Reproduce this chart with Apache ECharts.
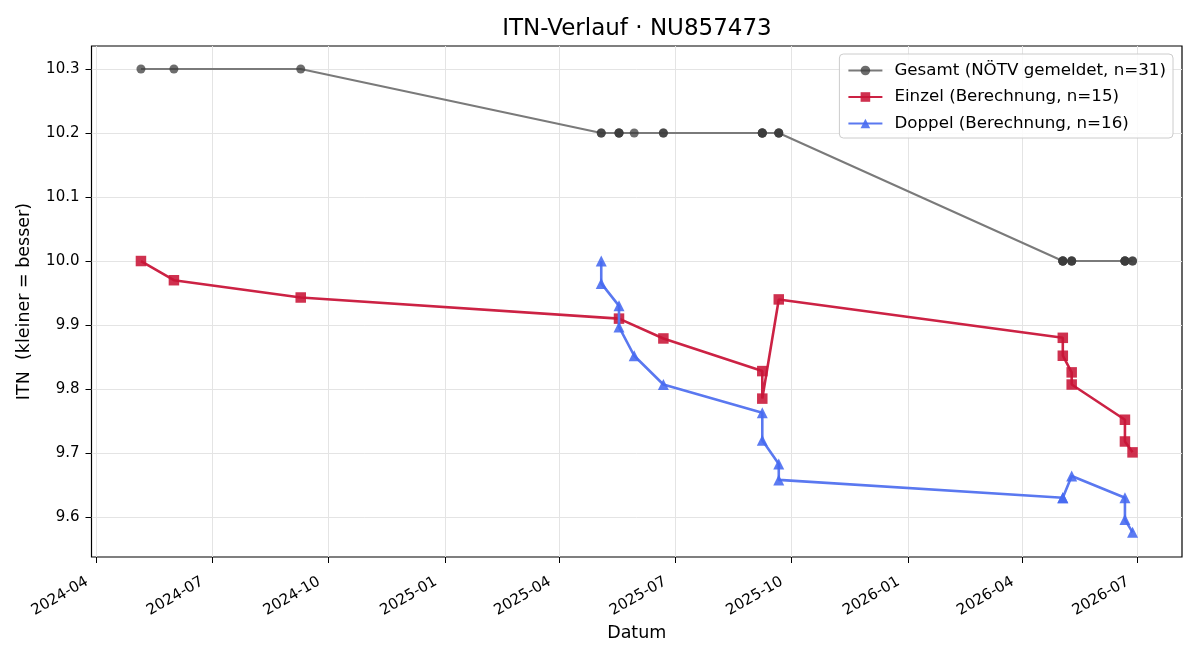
<!DOCTYPE html>
<html>
<head>
<meta charset="utf-8">
<script src="https://cdn.jsdelivr.net/npm/echarts@6/dist/echarts.min.js"></script>
<style>
  html, body { margin: 0; padding: 0; background: #fff; }
  #chart { width: 1200px; height: 660px; }
</style>
</head>
<body>
<div id="chart"></div>
<script>
// --- data ---
const einzelDates = [
  '2024-05-06', '2024-06-01', '2024-09-09', '2025-05-18', '2025-06-22',
  '2025-09-08', '2025-09-08', '2025-09-21', '2026-05-03', '2026-05-03',
  '2026-05-10', '2026-05-10', '2026-06-21', '2026-06-21', '2026-06-27'
];
const einzelValues = [
  10.000, 9.970, 9.943, 9.910, 9.879,
  9.828, 9.785, 9.940, 9.880, 9.852,
  9.826, 9.807, 9.752, 9.718, 9.701
];

const doppelDates = [
  '2025-05-04', '2025-05-04', '2025-05-18', '2025-05-18', '2025-05-30',
  '2025-06-22', '2025-09-08', '2025-09-08', '2025-09-21', '2025-09-21',
  '2026-05-03', '2026-05-03', '2026-05-10', '2026-06-21', '2026-06-21',
  '2026-06-27'
];
const doppelValues = [
  10.000, 9.965, 9.930, 9.897, 9.852,
  9.807, 9.763, 9.720, 9.683, 9.658,
  9.630, 9.630, 9.664, 9.630, 9.596,
  9.576
];

const gesamtDates = [
  '2024-05-06', '2024-06-01', '2024-09-09',
  '2025-05-04', '2025-05-04', '2025-05-18', '2025-05-18', '2025-05-18',
  '2025-05-30', '2025-06-22', '2025-06-22',
  '2025-09-08', '2025-09-08', '2025-09-08', '2025-09-08',
  '2025-09-21', '2025-09-21', '2025-09-21',
  '2026-05-03', '2026-05-03', '2026-05-03', '2026-05-03',
  '2026-05-10', '2026-05-10', '2026-05-10',
  '2026-06-21', '2026-06-21', '2026-06-21', '2026-06-21',
  '2026-06-27', '2026-06-27'
];
const gesamtValues = [
  10.3, 10.3, 10.3,
  10.2, 10.2, 10.2, 10.2, 10.2,
  10.2, 10.2, 10.2,
  10.2, 10.2, 10.2, 10.2,
  10.2, 10.2, 10.2,
  10.0, 10.0, 10.0, 10.0,
  10.0, 10.0, 10.0,
  10.0, 10.0, 10.0, 10.0,
  10.0, 10.0
];

const xTicks = ['2024-04', '2024-07', '2024-10', '2025-01', '2025-04',
                '2025-07', '2025-10', '2026-01', '2026-04', '2026-07'];
const yTicks = [9.6, 9.7, 9.8, 9.9, 10.0, 10.1, 10.2, 10.3];

const ts = s => new Date(s + (s.length === 7 ? '-01' : '') + 'T00:00:00').getTime();
const pairs = (ds, vs) => ds.map((d, i) => [ts(d), vs[i]]);
const ym = v => {
  const d = new Date(v);
  return d.getFullYear() + '-' + String(d.getMonth() + 1).padStart(2, '0');
};

const font = 'DejaVu Sans';
const chart = echarts.init(document.getElementById('chart'));

chart.setOption({
  backgroundColor: '#fff',
  animation: false,
  textStyle: { fontFamily: font },
  title: {
    text: 'ITN-Verlauf · NU857473',
    left: 632, top: 13, textAlign: 'center',
    textStyle: { fontFamily: font, fontSize: 23, fontWeight: 'normal', color: '#000' }
  },
  legend: {
    orient: 'vertical',
    right: 27, top: 54,
    padding: [8, 7, 6, 8],
    itemWidth: 34, itemHeight: 12, itemGap: 9.5,
    backgroundColor: 'rgba(255,255,255,0.85)',
    borderColor: '#cccccc', borderWidth: 1, borderRadius: 4,
    textStyle: { fontFamily: font, fontSize: 16.7, color: '#000', padding: [0, 0, 0, 7] },
    data: ['Gesamt (NÖTV gemeldet, n=31)', 'Einzel (Berechnung, n=15)', 'Doppel (Berechnung, n=16)']
  },
  grid: {
    left: 91.5, right: 18, top: 46, bottom: 103,
    show: true, borderColor: '#000', borderWidth: 1.2
  },
  xAxis: {
    type: 'value',
    min: ts('2024-03-28'), max: ts('2026-08-05'),
    name: 'Datum', nameLocation: 'middle', nameGap: 67,
    nameTextStyle: { fontFamily: font, fontSize: 17.5, color: '#000' },
    axisLine: { show: false },
    axisTick: { show: true, length: 6, lineStyle: { color: '#000' }, customValues: xTicks.map(ts) },
    axisLabel: {
      customValues: xTicks.map(ts),
      rotate: 30, fontSize: 15, color: '#000', margin: 18,
      padding: [0, 11, 0, 0],
      formatter: v => ym(v)
    },
    splitLine: { show: true, lineStyle: { color: '#e4e4e4', width: 1 } }
  },
  yAxis: {
    type: 'value',
    min: 9.5375, max: 10.336,
    name: 'ITN  (kleiner = besser)', nameLocation: 'middle', nameGap: 58,
    nameTextStyle: { fontFamily: font, fontSize: 17.5, color: '#000' },
    axisLine: { show: false },
    axisTick: { show: true, length: 6, lineStyle: { color: '#000' }, customValues: yTicks },
    axisLabel: {
      customValues: yTicks, fontSize: 15, color: '#000', margin: 12,
      formatter: v => v.toFixed(1)
    },
    splitLine: { show: true, lineStyle: { color: '#e4e4e4', width: 1 } }
  },
  series: [
    {
      name: 'Gesamt (NÖTV gemeldet, n=31)',
      type: 'line',
      data: pairs(gesamtDates, gesamtValues),
      symbol: 'circle', symbolSize: 9,
      lineStyle: { color: '#7a7a7a', width: 2 },
      itemStyle: { color: 'rgba(60,60,60,0.75)' },
      z: 2
    },
    {
      name: 'Einzel (Berechnung, n=15)',
      type: 'line',
      data: pairs(einzelDates, einzelValues),
      symbol: 'rect', symbolSize: 10.5,
      lineStyle: { color: '#cc2244', width: 2.6 },
      itemStyle: { color: 'rgba(200,20,55,0.88)' },
      z: 3
    },
    {
      name: 'Doppel (Berechnung, n=16)',
      type: 'line',
      data: pairs(doppelDates, doppelValues),
      symbol: 'triangle', symbolSize: 11,
      lineStyle: { color: '#5a78f0', width: 2.6 },
      itemStyle: { color: 'rgba(70,105,240,0.88)' },
      z: 4
    }
  ]
});
</script>
</body>
</html>
